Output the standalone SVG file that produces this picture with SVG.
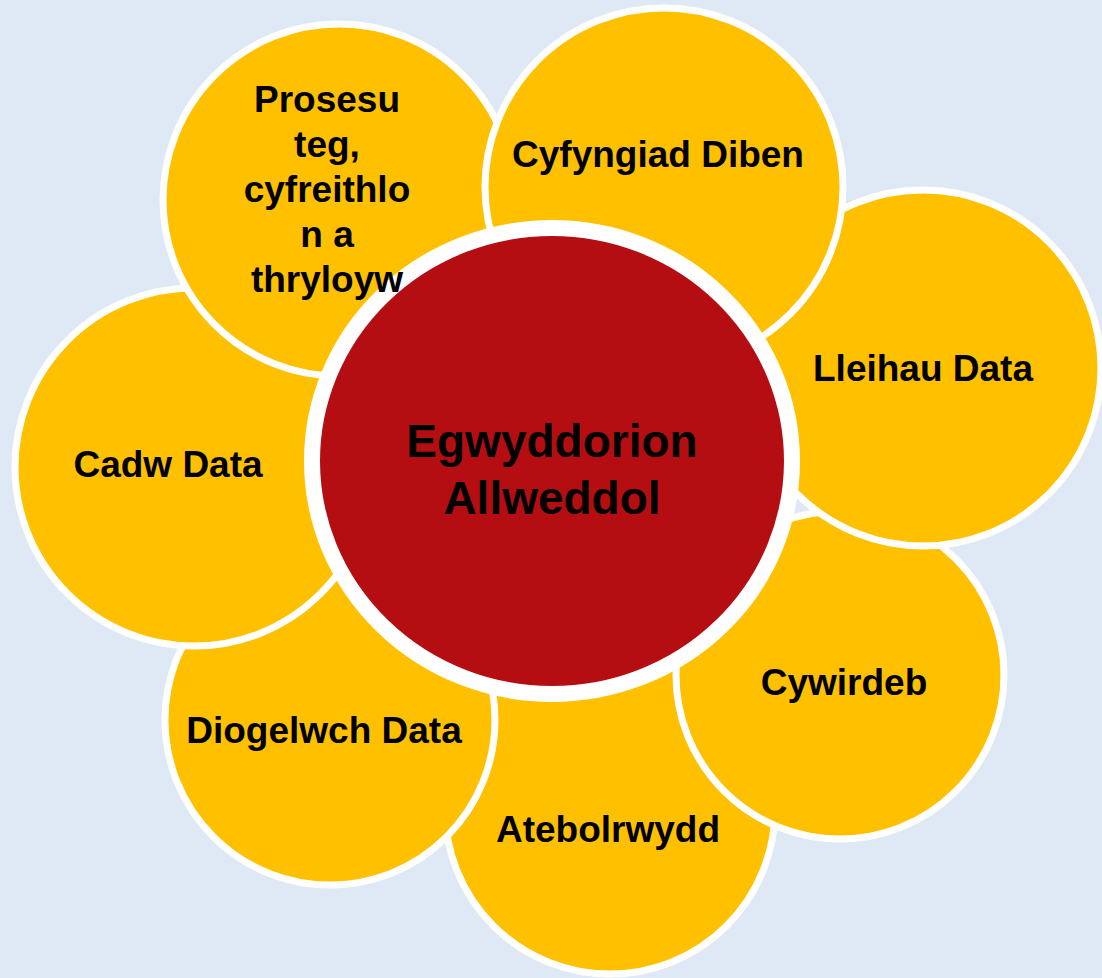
<svg xmlns="http://www.w3.org/2000/svg" width="1102" height="978" viewBox="0 0 1102 978">
<style>
.petal{fill:#ffc000;stroke:#ffffff;stroke-width:7}
.hub{fill:#b50e12;stroke:#ffffff;stroke-width:16}
.t{font-family:"Liberation Sans",Arial,sans-serif;font-weight:bold;font-size:37px;fill:#000;text-anchor:middle}
.th{font-family:"Liberation Sans",Arial,sans-serif;font-weight:bold;font-size:46px;fill:#000;text-anchor:middle}
</style>
<rect x="0" y="0" width="1102" height="978" fill="#dee9f5"/>
<g id="connectors"></g>
<g id="atebolrwydd">
<circle class="petal" cx="610" cy="809" r="165"/>
<text class="t" x="608" y="842">Atebolrwydd</text>
</g>
<g id="cywirdeb">
<circle class="petal" cx="840" cy="675" r="164"/>
<text class="t" x="844" y="695">Cywirdeb</text>
</g>
<g id="lleihau">
<circle class="petal" cx="923" cy="368" r="178"/>
<text class="t" x="923" y="381">Lleihau Data</text>
</g>
<g id="diogelwch">
<circle class="petal" cx="330" cy="720" r="165"/>
<text class="t" x="324" y="743">Diogelwch Data</text>
</g>
<g id="cadw">
<circle class="petal" cx="194" cy="467" r="179"/>
<text class="t" x="168" y="477">Cadw Data</text>
</g>
<g id="prosesu">
<circle class="petal" cx="339" cy="200" r="176"/>
</g>
<g id="cyfyngiad">
<circle class="petal" cx="664" cy="187" r="179"/>
<text class="t" x="658" y="167">Cyfyngiad Diben</text>
</g>
<g id="centre">
<ellipse class="hub" cx="552" cy="461" rx="240" ry="233"/>
<text class="th" x="552" y="457">Egwyddorion</text>
<text class="th" x="552" y="514">Allweddol</text>
</g>
<g id="prosesu-label">
<text class="t" x="327" y="112">Prosesu</text>
<text class="t" x="327" y="157">teg,</text>
<text class="t" x="327" y="202">cyfreithlo</text>
<text class="t" x="327" y="247">n a</text>
<text class="t" x="327" y="292">thryloyw</text>
</g>
</svg>
